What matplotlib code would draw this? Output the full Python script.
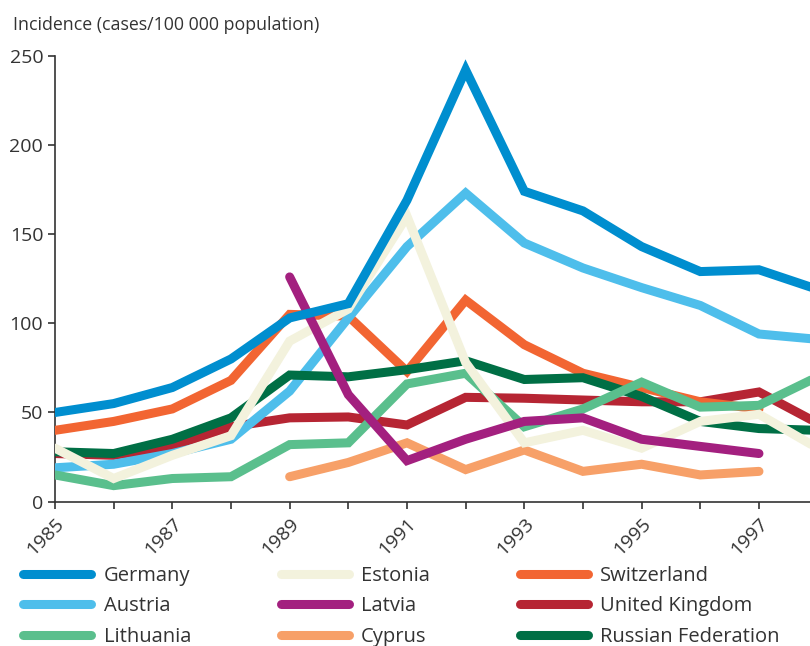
import matplotlib
matplotlib.use("Agg")
import matplotlib.pyplot as plt
import numpy as np

plt.rcParams['font.family'] = ['Open Sans', 'DejaVu Sans']

years_full = [1985, 1986, 1987, 1988, 1989, 1990, 1991, 1992, 1993, 1994, 1995, 1996, 1997, 1998]
years_89_97 = [1989, 1990, 1991, 1992, 1993, 1994, 1995, 1996, 1997]
years_85_97 = [1985, 1986, 1987, 1988, 1989, 1990, 1991, 1992, 1993, 1994, 1995, 1996, 1997]

germany = [50, 55, 64, 80, 103, 111, 169, 242, 174, 163, 143, 129, 130, 119]
austria = [19, 21, 27, 35, 62, 103, 143, 173, 145, 131, 120, 110, 94, 91]
lithuania = [15, 9, 13, 14, 32, 33, 66, 72, 42, 52, 67, 53, 54, 70]
estonia = [30, 13, 26, 37, 90, 108, 160, 78, 33, 40, 30, 45, 49, 30]
latvia = [126, 60, 23, 35, 45, 47, 35, 31, 27]
cyprus = [14, 22, 33, 18, 29, 17, 21, 15, 17]
switzerland = [40, 45, 52, 68, 105, 104, 73, 113, 88, 72, 64, 56, 52]
uk = [27, 26, 31, 42, 47, 47.5, 43, 58.5, 58, 57, 56, 56, 61.5, 44]
russia = [28, 27, 35, 47, 71, 70, 74, 79, 68.5, 69.5, 59, 45, 41, 40]

series = [
    ("Germany", years_full, germany, "#008ECF"),
    ("Austria", years_full, austria, "#4EBEEB"),
    ("Lithuania", years_full, lithuania, "#5ABF8D"),
    ("Estonia", years_full, estonia, "#F3F2DD"),
    ("Latvia", years_89_97, latvia, "#A3207F"),
    ("Cyprus", years_89_97, cyprus, "#F7A068"),
    ("Switzerland", years_85_97, switzerland, "#F26532"),
    ("United Kingdom", years_full, uk, "#B62533"),
    ("Russian Federation", years_full, russia, "#006F45"),
]

fig = plt.figure(figsize=(8.10, 6.46), dpi=100)
ax = fig.add_axes([55/810, 1 - 501.7/646, 1 - 55/810, (501.7 - 55.7)/646])

zorders = {"Germany": 9, "Austria": 5, "Lithuania": 6, "Estonia": 7, "Latvia": 8,
           "Cyprus": 3, "Switzerland": 4, "United Kingdom": 2, "Russian Federation": 5}
handles = []
for name, xs, ys, col in series:
    ln, = ax.plot(xs, ys, color=col, lw=6.5, solid_capstyle='round', solid_joinstyle='miter',
                  label=name, zorder=zorders[name], clip_on=True)
    handles.append(ln)

ax.set_xlim(1985, 1997.87)
ax.set_ylim(0, 250)
ax.set_yticks([0, 50, 100, 150, 200, 250])
ax.set_xticks(years_85_97)
ax.set_xticklabels([str(y) if y % 2 == 1 else "" for y in years_85_97],
                   rotation=45, ha='right', rotation_mode='anchor')
for s in ['top', 'right']:
    ax.spines[s].set_visible(False)
for s in ['left', 'bottom']:
    ax.spines[s].set_color('#333333')
    ax.spines[s].set_linewidth(1.2)
ax.tick_params(axis='both', colors='#333333', labelcolor='#333333', labelsize=14,
               length=5, width=1.2, direction='out')
ax.tick_params(axis='x', pad=4)

fig.text(13/810, 1 - 25/646, "Incidence (cases/100 000 population)", fontsize=12.8,
         color='#333333', va='center', ha='left')

leg = fig.legend(handles=handles, loc='upper left', bbox_to_anchor=(23/810, 1 - 566/646),
                 ncol=3, frameon=False, fontsize=14.5, handlelength=3.4, handletextpad=0.6,
                 columnspacing=4.45, labelspacing=0.52, borderaxespad=0, borderpad=0)
for t in leg.get_texts():
    t.set_color('#333333')

fig.savefig("out.png", dpi=100)
